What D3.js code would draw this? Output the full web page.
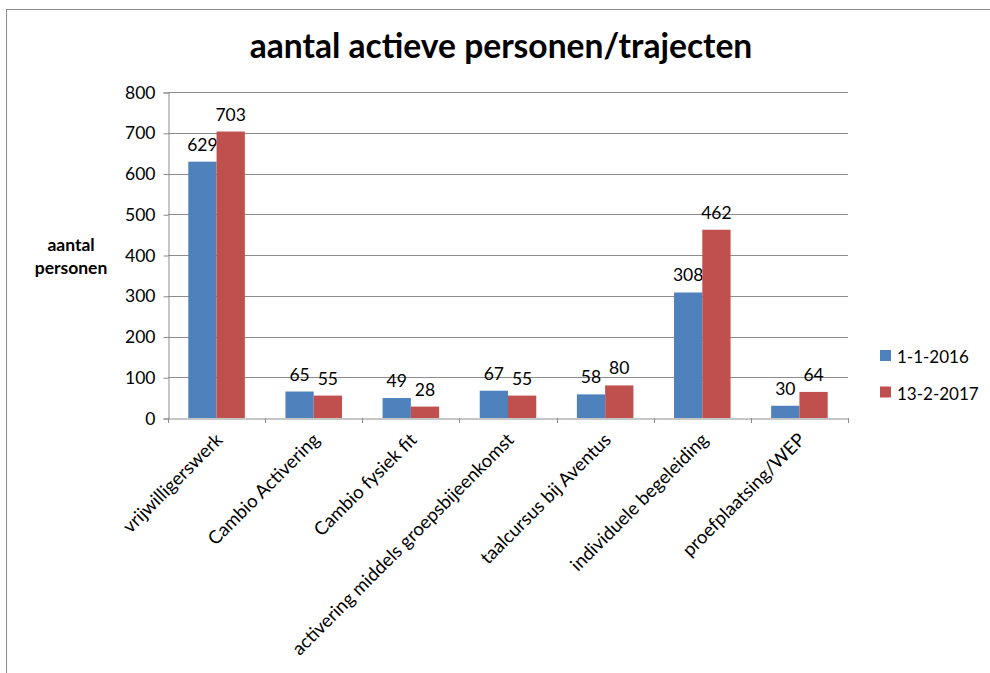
<!DOCTYPE html>
<html>
<head>
<meta charset="utf-8">
<script src="https://cdn.jsdelivr.net/npm/d3@7"></script>
<style>
  body { margin: 0; background: #fff; }
  svg text { font-family: Lato, "Open Sans", sans-serif; fill: #000; }
</style>
</head>
<body>
<div id="chart"></div>
<script>
const categories = ['vrijwilligerswerk', 'Cambio Activering', 'Cambio fysiek fit',
  'activering middels groepsbijeenkomst', 'taalcursus bij Aventus',
  'individuele begeleiding', 'proefplaatsing/WEP']
const seriesNames = ['1-1-2016', '13-2-2017']
const values2016 = [629, 65, 49, 67, 58, 308, 30]
const values2017 = [703, 55, 28, 55, 80, 462, 64]
const yTicks = [0, 100, 200, 300, 400, 500, 600, 700, 800]
const colors = ['#4F81BD', '#C0504D']

const width = 990, height = 673
const plotLeft = 168, plotRight = 848, plotTop = 92, plotBottom = 418

const svg = d3.select('#chart')
  .append('svg')
  .attr('width', width)
  .attr('height', height)

// chart area border
svg.append('rect')
  .attr('x', 6.5).attr('y', 9.5)
  .attr('width', 1000).attr('height', 700)
  .attr('fill', 'none')
  .attr('stroke', '#8c8c8c')

svg.append('text')
  .text('aantal actieve personen/trajecten')
  .attr('x', 501)
  .attr('y', 58)
  .attr('text-anchor', 'middle')
  .style('font-weight', 'bold')
  .style('font-size', '33.6px')

const yScale = d3.scaleLinear()
  .domain([0, 800])
  .range([plotBottom, plotTop])

const xScale = d3.scaleBand()
  .domain(categories)
  .range([plotLeft, plotRight])
  .padding(0)

const xInner = d3.scaleBand()
  .domain(seriesNames)
  .range([20.3, xScale.bandwidth() - 20.3])
  .padding(0)

// gridlines
svg.append('g')
  .selectAll('line')
  .data(yTicks.filter(d => d > 0))
  .enter()
  .append('line')
  .attr('x1', plotLeft).attr('x2', plotRight)
  .attr('y1', d => Math.round(yScale(d)) + 0.5)
  .attr('y2', d => Math.round(yScale(d)) + 0.5)
  .attr('stroke', '#8c8c8c')

const yAxis = d3.axisLeft(yScale).tickValues(yTicks).tickSize(5).tickPadding(8)
const gy = svg.append('g')
  .attr('transform', `translate(${plotLeft + 0.5},0.5)`)
  .call(yAxis)
gy.select('.domain').attr('stroke', '#8c8c8c')
gy.selectAll('.tick line').attr('stroke', '#8c8c8c')
gy.selectAll('.tick text').style('font-size', '17.5px').style('font-family', 'Lato')

const series = [values2016, values2017]
series.forEach((vals, s) => {
  const g = svg.append('g')
  g.selectAll('rect')
    .data(categories)
    .enter()
    .append('rect')
    .attr('x', (d) => xScale(d) + xInner(seriesNames[s]))
    .attr('y', (d, i) => yScale(vals[i]))
    .attr('width', xInner.bandwidth())
    .attr('height', (d, i) => plotBottom - yScale(vals[i]))
    .attr('fill', colors[s])
  g.selectAll('text')
    .data(categories)
    .enter()
    .append('text')
    .text((d, i) => vals[i])
    .attr('x', (d) => xScale(d) + xInner(seriesNames[s]) + xInner.bandwidth() / 2)
    .attr('y', (d, i) => yScale(vals[i]) - 11)
    .attr('text-anchor', 'middle')
    .style('font-size', '17.5px')
})

const xAxis = d3.axisBottom(xScale).tickSize(0).tickFormat('')
const gx = svg.append('g')
  .attr('transform', `translate(0,${plotBottom + 0.5})`)
  .call(xAxis)
gx.select('.domain').attr('stroke', '#8c8c8c')
gx.selectAll('.tick').remove()

// x tick marks between categories
svg.append('g')
  .selectAll('line')
  .data(categories.concat(['end']))
  .enter()
  .append('line')
  .attr('x1', (d, i) => Math.round(plotLeft + i * xScale.step()) + 0.5)
  .attr('x2', (d, i) => Math.round(plotLeft + i * xScale.step()) + 0.5)
  .attr('y1', plotBottom)
  .attr('y2', plotBottom + 5)
  .attr('stroke', '#8c8c8c')

svg.append('g')
  .selectAll('text')
  .data(categories)
  .enter()
  .append('text')
  .text(d => d)
  .attr('transform', d => `translate(${xScale(d) + xScale.bandwidth() / 2 + 7},${plotBottom + 23}) rotate(-45)`)
  .attr('text-anchor', 'end')
  .style('font-size', '18.5px')

// y axis title
const yt = svg.append('text')
  .attr('text-anchor', 'middle')
  .style('font-weight', 'bold')
  .style('font-size', '17.5px')
yt.append('tspan').attr('x', 71).attr('y', 251).text('aantal')
yt.append('tspan').attr('x', 71).attr('y', 274).text('personen')

// legend
const legend = svg.append('g')
seriesNames.forEach((name, i) => {
  legend.append('rect')
    .attr('x', 880).attr('y', 350 + i * 36.5)
    .attr('width', 11).attr('height', 11)
    .attr('fill', colors[i])
  legend.append('text')
    .attr('x', 897).attr('y', 363 + i * 36.5)
    .text(name)
    .style('font-size', '17px')
})
</script>
</body>
</html>
